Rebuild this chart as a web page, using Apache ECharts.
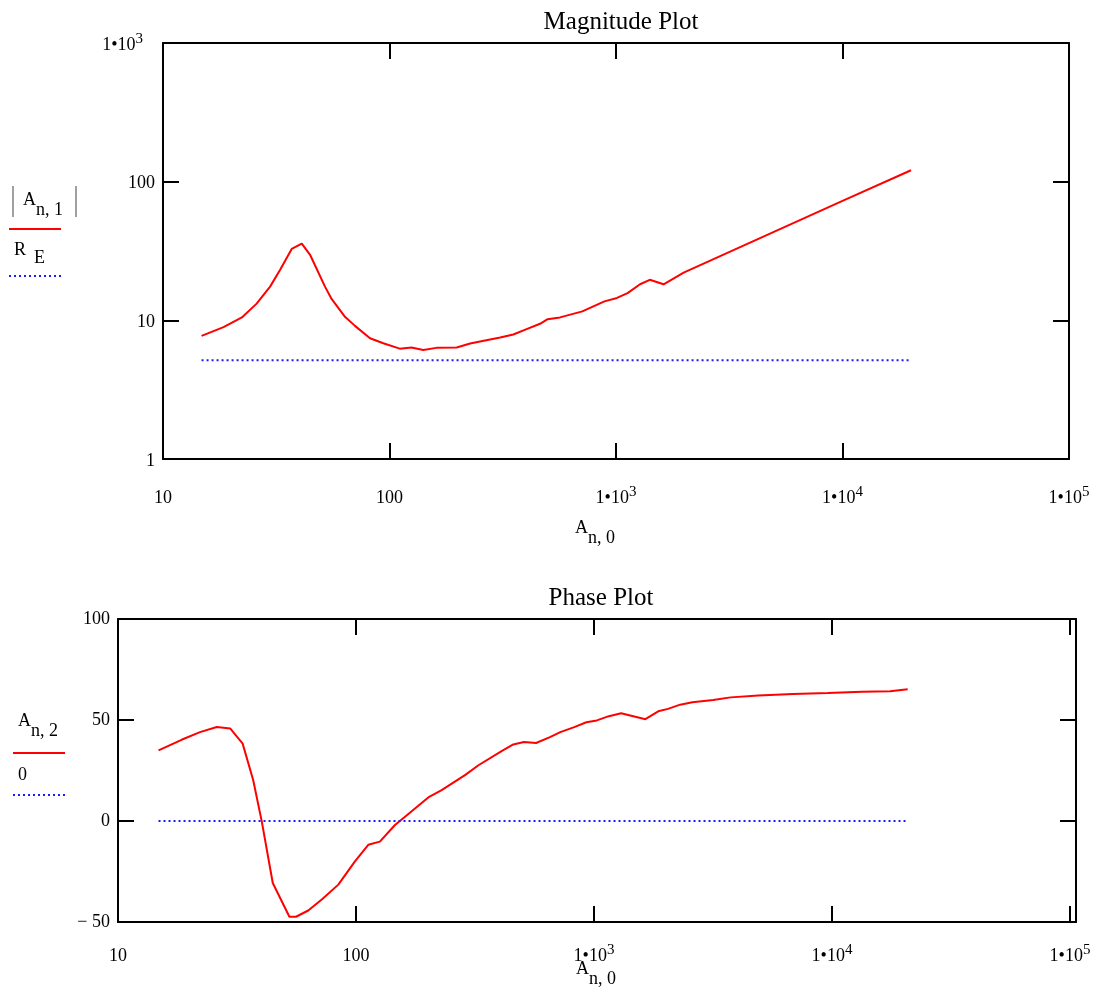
<!DOCTYPE html>
<html>
<head>
<meta charset="utf-8">
<script src="https://cdn.jsdelivr.net/npm/echarts@6/dist/echarts.min.js"></script>
<style>
  html, body { margin: 0; padding: 0; background: #fff; }
  #chart { width: 1095px; height: 989px; }
</style>
</head>
<body>
<div id="chart"></div>
<script>
// ---- data ----
const magFreq = [14.8, 18.5, 22.3, 25.9, 29.7, 32.9, 37.0, 41.0, 44.6, 51.9, 55.6, 63.6, 70.4, 82.0, 93.9, 111, 125, 141, 161, 198, 227, 251, 308, 352, 403, 462, 499, 566, 710, 889, 1010, 1125, 1277, 1410, 1622, 1989, 10000, 20070];
const magValue = [7.73, 8.93, 10.5, 13.2, 17.5, 23.2, 32.7, 35.7, 29.7, 17.5, 14.2, 10.6, 9.12, 7.43, 6.84, 6.25, 6.37, 6.12, 6.33, 6.37, 6.80, 7.03, 7.52, 7.90, 8.64, 9.44, 10.2, 10.5, 11.6, 13.7, 14.5, 15.7, 18.2, 19.6, 18.2, 22.1, 72.6, 120.8];
const reFreq = [14.8, 20070];
const reValue = [5.15, 5.15];

const phaseFreq = [14.8, 18.5, 22.1, 26.0, 29.6, 33.4, 37.0, 40.2, 44.7, 52.5, 56.0, 63.0, 71.8, 84.3, 99.0, 112.6, 126, 145.8, 160.7, 203, 229, 287, 327, 409, 458, 508, 571, 653, 722, 826, 929, 1028, 1155, 1300, 1644, 1862, 2046, 2302, 2590, 3168, 3750, 4900, 6850, 9600, 13400, 17560, 20800];
const phaseValue = [35.0, 40.2, 44.0, 46.5, 45.8, 38.3, 20.2, -0.3, -30.7, -47.4, -47.4, -44.3, -38.9, -31.5, -20.0, -11.8, -10.2, -2.0, 2.1, 12.0, 15.3, 22.7, 27.6, 34.6, 37.9, 39.1, 38.6, 41.5, 44.0, 46.5, 48.9, 49.8, 51.9, 53.3, 50.4, 54.3, 55.5, 57.6, 58.8, 59.9, 61.2, 62.1, 62.9, 63.4, 64.0, 64.2, 65.2];
const zeroFreq = [14.8, 20800];
const zeroValue = [0, 0];

const magFreqRange = [10, 100000];
const phaseFreqRange = [10, 106000];
const magRange = [1, 1000];
const phaseRange = [-50, 100];
const phaseStep = 50;

const titles = ['Magnitude Plot', 'Phase Plot'];

// ---- styling ----
const FONT = 'Liberation Serif';
const RED = '#ff0000';
const BLUE = '#1a1aff';

function zip(xs, ys) { return xs.map((x, i) => [x, ys[i]]); }

function powLabelWith(supKey) {
  return function (v) {
    const lg = Math.log10(v);
    const k = Math.round(lg);
    if (Math.abs(lg - k) > 0.01) return '';
    if (k <= 2) return '{b|' + String(Math.round(Math.pow(10, k))) + '}';
    return '{b|1\u202210}{' + supKey + '|' + k + '}';
  };
}
function phaseLabel(v) {
  return v < 0 ? '\u2212 ' + Math.abs(v) : String(v);
}

const rich = {
  b: { fontSize: 18, fontFamily: FONT, color: '#000', lineHeight: 22, padding: [6, 0, 0, 0], verticalAlign: 'bottom' },
  sup: { fontSize: 15, fontFamily: FONT, color: '#000', lineHeight: 16, verticalAlign: 'top' },
  supy: { fontSize: 15, fontFamily: FONT, color: '#000', lineHeight: 16, verticalAlign: 'top', padding: [0, 12, 0, 0] }
};

function axisCommon(extra) {
  return Object.assign({
    axisLine: { show: true, onZero: false, lineStyle: { color: '#000', width: 2 } },
    axisTick: { show: true, inside: true, length: 16, lineStyle: { color: '#000', width: 2 } },
    splitLine: { show: false },
    minorTick: { show: false }
  }, extra);
}

const labelBase = { color: '#000', fontFamily: FONT, fontSize: 18, rich: rich };

const chart = echarts.init(document.getElementById('chart'), null, { renderer: 'canvas' });

const option = {
  animation: false,
  backgroundColor: '#fff',
  title: [
    { text: titles[0], left: 616, top: 5, textAlign: 'center',
      textStyle: { fontFamily: FONT, fontWeight: 'normal', fontSize: 25, color: '#000' } },
    { text: titles[1], left: 596, top: 581, textAlign: 'center',
      textStyle: { fontFamily: FONT, fontWeight: 'normal', fontSize: 25, color: '#000' } }
  ],
  grid: [
    { left: 163, top: 43, width: 906, height: 416, containLabel: false },
    { left: 118, top: 619, width: 958, height: 303, containLabel: false }
  ],
  xAxis: [
    axisCommon({ type: 'log', logBase: 10, gridIndex: 0, position: 'bottom', min: magFreqRange[0], max: magFreqRange[1],
      axisLabel: Object.assign({ margin: 26, formatter: powLabelWith('sup'), showMinLabel: true, showMaxLabel: true }, labelBase) }),
    axisCommon({ type: 'log', logBase: 10, gridIndex: 0, position: 'top', min: magFreqRange[0], max: magFreqRange[1],
      axisLabel: { show: false } }),
    axisCommon({ type: 'log', logBase: 10, gridIndex: 1, position: 'bottom', min: phaseFreqRange[0], max: phaseFreqRange[1],
      axisLabel: Object.assign({ margin: 21, formatter: powLabelWith('sup'), showMinLabel: true, showMaxLabel: true }, labelBase) }),
    axisCommon({ type: 'log', logBase: 10, gridIndex: 1, position: 'top', min: phaseFreqRange[0], max: phaseFreqRange[1],
      axisLabel: { show: false } })
  ],
  yAxis: [
    axisCommon({ type: 'log', logBase: 10, gridIndex: 0, position: 'left', min: magRange[0], max: magRange[1],
      axisLabel: Object.assign({ margin: 8, formatter: powLabelWith('supy'), showMinLabel: true, showMaxLabel: true }, labelBase) }),
    axisCommon({ type: 'log', logBase: 10, gridIndex: 0, position: 'right', min: magRange[0], max: magRange[1],
      axisLabel: { show: false } }),
    axisCommon({ type: 'value', gridIndex: 1, position: 'left', min: phaseRange[0], max: phaseRange[1], interval: phaseStep,
      axisLabel: { margin: 8, formatter: phaseLabel, showMinLabel: true, showMaxLabel: true, color: '#000', fontFamily: FONT, fontSize: 18 } }),
    axisCommon({ type: 'value', gridIndex: 1, position: 'right', min: phaseRange[0], max: phaseRange[1], interval: phaseStep,
      axisLabel: { show: false } })
  ],
  series: [
    { type: 'line', xAxisIndex: 0, yAxisIndex: 0, data: zip(magFreq, magValue), showSymbol: false,
      lineStyle: { color: RED, width: 2 }, silent: true },
    { type: 'line', xAxisIndex: 0, yAxisIndex: 0, data: zip(reFreq, reValue), showSymbol: false,
      lineStyle: { color: BLUE, width: 2, type: [2, 3] }, silent: true },
    { type: 'line', xAxisIndex: 2, yAxisIndex: 2, data: zip(phaseFreq, phaseValue), showSymbol: false,
      lineStyle: { color: RED, width: 2 }, silent: true },
    { type: 'line', xAxisIndex: 2, yAxisIndex: 2, data: zip(zeroFreq, zeroValue), showSymbol: false,
      lineStyle: { color: BLUE, width: 2, type: [2, 3] }, silent: true }
  ],
  graphic: [
    // magnitude axis label: |A n,1| over R E
    { type: 'line', shape: { x1: 13, y1: 186, x2: 13, y2: 217 }, style: { stroke: '#808080', lineWidth: 1.5 } },
    { type: 'line', shape: { x1: 76, y1: 186, x2: 76, y2: 217 }, style: { stroke: '#808080', lineWidth: 1.5 } },
    { type: 'text', left: 23, top: 191, style: {
        text: '{a|A}{s|n, 1}', rich: {
          a: { fontFamily: FONT, fontSize: 18, fill: '#000', verticalAlign: 'top', lineHeight: 28 },
          s: { fontFamily: FONT, fontSize: 18, fill: '#000', verticalAlign: 'bottom', lineHeight: 28 } } } },
    { type: 'line', shape: { x1: 9, y1: 229, x2: 61, y2: 229 }, style: { stroke: RED, lineWidth: 2 } },
    { type: 'text', left: 14, top: 241, style: { text: 'R', fontFamily: FONT, fontSize: 18, fill: '#000' } },
    { type: 'text', left: 34, top: 249, style: { text: 'E', fontFamily: FONT, fontSize: 18, fill: '#000' } },
    { type: 'line', shape: { x1: 9, y1: 276, x2: 61, y2: 276 }, style: { stroke: BLUE, lineWidth: 2, lineDash: [2, 3] } },

    // phase axis label: A n,2 over 0
    { type: 'text', left: 18, top: 712, style: {
        text: '{a|A}{s|n, 2}', rich: {
          a: { fontFamily: FONT, fontSize: 18, fill: '#000', verticalAlign: 'top', lineHeight: 28 },
          s: { fontFamily: FONT, fontSize: 18, fill: '#000', verticalAlign: 'bottom', lineHeight: 28 } } } },
    { type: 'line', shape: { x1: 13, y1: 753, x2: 65, y2: 753 }, style: { stroke: RED, lineWidth: 2 } },
    { type: 'text', left: 18, top: 766, style: { text: '0', fontFamily: FONT, fontSize: 18, fill: '#000' } },
    { type: 'line', shape: { x1: 13, y1: 795, x2: 65, y2: 795 }, style: { stroke: BLUE, lineWidth: 2, lineDash: [2, 3] } },

    // x axis names
    { type: 'text', left: 575, top: 519, style: {
        text: '{a|A}{s|n, 0}', rich: {
          a: { fontFamily: FONT, fontSize: 18, fill: '#000', verticalAlign: 'top', lineHeight: 28 },
          s: { fontFamily: FONT, fontSize: 18, fill: '#000', verticalAlign: 'bottom', lineHeight: 28 } } } },
    { type: 'text', left: 576, top: 960, style: {
        text: '{a|A}{s|n, 0}', rich: {
          a: { fontFamily: FONT, fontSize: 18, fill: '#000', verticalAlign: 'top', lineHeight: 28 },
          s: { fontFamily: FONT, fontSize: 18, fill: '#000', verticalAlign: 'bottom', lineHeight: 28 } } } }
  ]
};

chart.setOption(option);
</script>
</body>
</html>
